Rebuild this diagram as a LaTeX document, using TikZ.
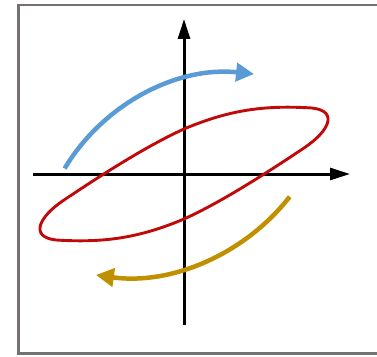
\documentclass[tikz,border=0pt]{standalone}
\usetikzlibrary{arrows.meta}
\definecolor{framegray}{RGB}{118,113,113}
\definecolor{loopred}{RGB}{192,10,10}
\definecolor{upblue}{RGB}{91,155,213}
\definecolor{downgold}{RGB}{191,144,0}
\tikzset{
  axis/.style={line width=3pt,line cap=butt,-{Triangle[length=20pt,width=12pt]}},
  sweep/.style={line width=4.5pt,line cap=butt,-{Triangle[length=18pt,width=18pt]}},
}
\begin{document}
\begin{tikzpicture}[line cap=round,line join=round,x=1pt,y=1pt]
		\useasboundingbox (-184,-182) rectangle (193,174);
		\draw [line width=2.5pt,line join=miter,color=framegray] (260,169) -- (-165.5,169) -- (-165.5,-179.5) -- (260,-179.5);
		\coordinate (xl) at (-151,0);
		\coordinate (xr) at (166,0);
		\coordinate (yb) at (0,-151);
		\coordinate (yt) at (0,155);
		\draw [axis] (xl) -- (xr);
		\draw [axis] (yb) -- (yt);
		\draw [line width=2.9pt,color=loopred] (0,45) .. controls (-40,27) and (-90,-6) .. (-120,-26) .. controls (-145,-42.7) and (-155,-63) .. (-128,-66) .. controls (-80,-69) and (-45,-64) .. (0,-45) .. controls (40,-27) and (90,6) .. (120,26) .. controls (145,42.7) and (155,63) .. (128,66) .. controls (80,69) and (45,64) .. cycle;
		\coordinate (bs) at (-119.4,5.5);
		\draw [sweep,color=upblue] (bs) arc[start angle=149,end angle=84,radius=197pt];
		\coordinate (gs) at (105.7,-22.7);
		\draw [sweep,color=downgold] (gs) arc[start angle=-38,end angle=-98,radius=209pt];
\end{tikzpicture}
\end{document}
